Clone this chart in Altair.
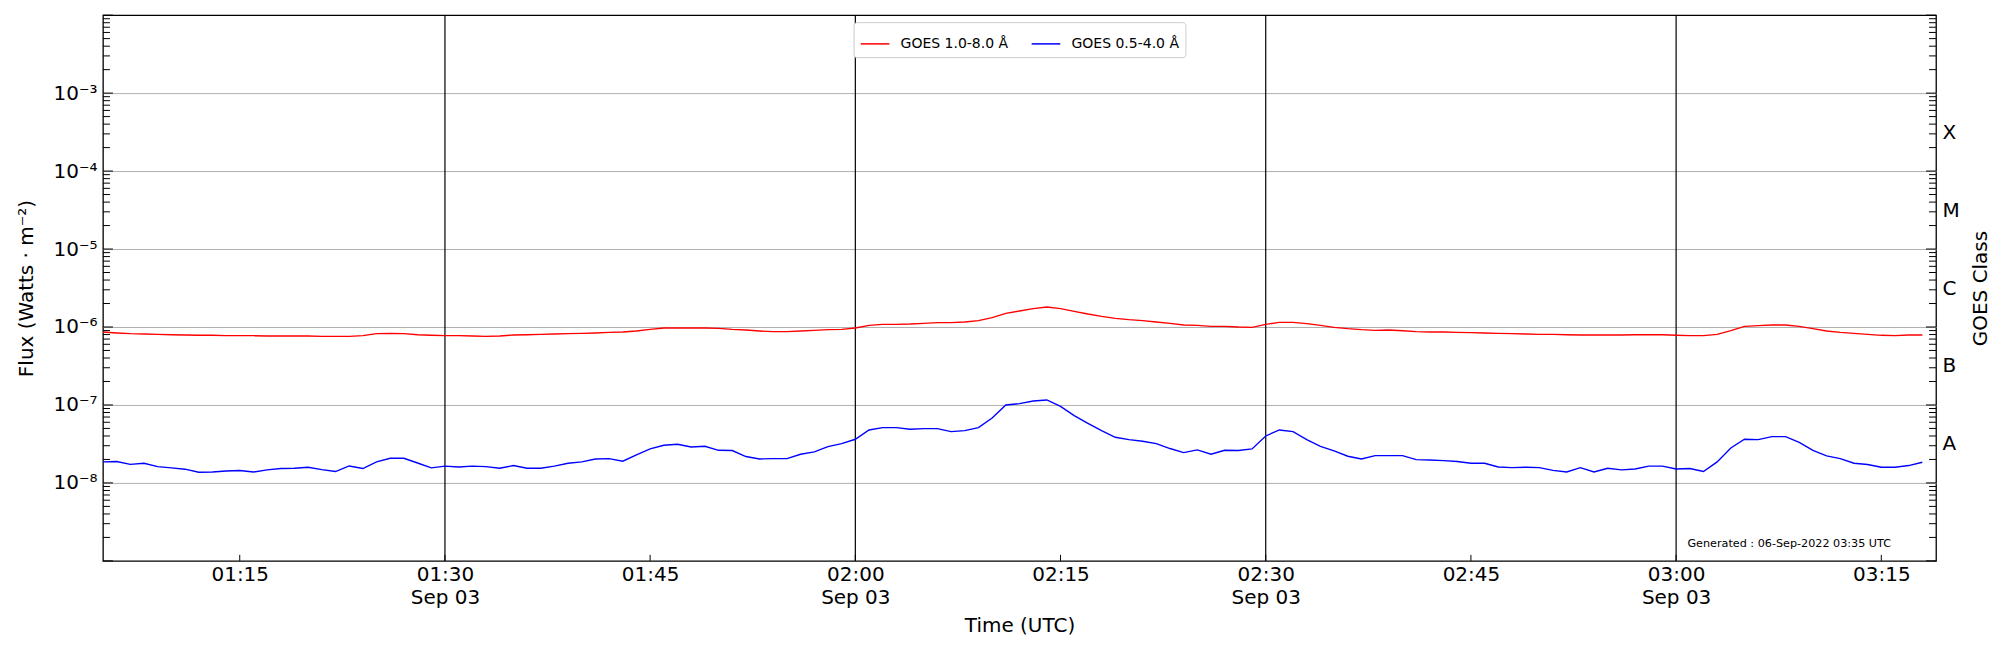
import math
import altair as alt
import pandas as pd

# ---------------- data ----------------
START = "2022-09-03 01:05"
# GOES 1.0-8.0 A flux, in units of 1e-6 W m^-2, one sample per minute from 01:05
xrsb_e6 = [
    0.863, 0.838, 0.821, 0.813, 0.805, 0.797, 0.790, 0.782, 0.782, 0.774,
    0.774, 0.774, 0.767, 0.767, 0.767, 0.767, 0.759, 0.759, 0.759, 0.774,
    0.821, 0.829, 0.821, 0.797, 0.782, 0.774, 0.774, 0.767, 0.759, 0.767,
    0.790, 0.797, 0.805, 0.813, 0.821, 0.829, 0.838, 0.854, 0.863, 0.889,
    0.933, 0.971, 0.971, 0.971, 0.971, 0.961, 0.933, 0.915, 0.889, 0.871,
    0.871, 0.889, 0.906, 0.924, 0.933, 0.971, 1.050, 1.082, 1.082, 1.093,
    1.114, 1.137, 1.137, 1.159, 1.206, 1.317, 1.497, 1.604, 1.718, 1.804,
    1.718, 1.588, 1.468, 1.370, 1.291, 1.242, 1.206, 1.159, 1.114, 1.061,
    1.050, 1.020, 1.020, 1.000, 0.990, 1.082, 1.148, 1.148, 1.103, 1.050,
    0.990, 0.952, 0.924, 0.906, 0.915, 0.897, 0.871, 0.863, 0.863, 0.854,
    0.846, 0.838, 0.829, 0.821, 0.813, 0.805, 0.805, 0.797, 0.790, 0.790,
    0.790, 0.790, 0.797, 0.797, 0.797, 0.782, 0.774, 0.774, 0.805, 0.897,
    1.020, 1.040, 1.061, 1.061, 1.020, 0.952, 0.889, 0.854, 0.829, 0.805,
    0.782, 0.774, 0.790, 0.790,
]
# GOES 0.5-4.0 A flux, in units of 1e-7 W m^-2
xrsa_e7 = [
    0.186, 0.188, 0.173, 0.179, 0.162, 0.156, 0.150, 0.137, 0.138, 0.142,
    0.144, 0.138, 0.147, 0.153, 0.154, 0.159, 0.148, 0.140, 0.165, 0.153,
    0.186, 0.207, 0.207, 0.180, 0.156, 0.164, 0.160, 0.164, 0.162, 0.154,
    0.167, 0.154, 0.154, 0.164, 0.179, 0.186, 0.203, 0.205, 0.190, 0.229,
    0.273, 0.304, 0.313, 0.289, 0.295, 0.262, 0.260, 0.218, 0.203, 0.205,
    0.205, 0.233, 0.250, 0.292, 0.319, 0.363, 0.478, 0.512, 0.512, 0.488,
    0.497, 0.497, 0.455, 0.469, 0.512, 0.681, 1.000, 1.040, 1.126, 1.159,
    0.961, 0.730, 0.582, 0.469, 0.385, 0.359, 0.342, 0.319, 0.276, 0.245,
    0.265, 0.233, 0.262, 0.260, 0.273, 0.400, 0.478, 0.455, 0.359, 0.295,
    0.257, 0.220, 0.203, 0.224, 0.224, 0.224, 0.199, 0.197, 0.193, 0.188,
    0.179, 0.179, 0.160, 0.157, 0.159, 0.157, 0.145, 0.138, 0.157, 0.138,
    0.154, 0.147, 0.151, 0.164, 0.164, 0.151, 0.153, 0.140, 0.186, 0.281,
    0.363, 0.359, 0.393, 0.393, 0.332, 0.262, 0.222, 0.205, 0.179, 0.172,
    0.159, 0.159, 0.167, 0.184,
]
series_names = ["GOES 1.0-8.0 Å", "GOES 0.5-4.0 Å"]
series_colors = ["#ff0000", "#0000ff"]

x_domain = ["01:05", "03:19"]
x_tick_times = ["01:15", "01:30", "01:45", "02:00", "02:15", "02:30", "02:45", "03:00", "03:15"]
x_major_times = ["01:30", "02:00", "02:30", "03:00"]
y_decades = [1e-9, 1e-8, 1e-7, 1e-6, 1e-5, 1e-4, 1e-3, 1e-2]
y_label_values = [1e-8, 1e-7, 1e-6, 1e-5, 1e-4, 1e-3]
y_label_texts = ["10⁻⁸", "10⁻⁷", "10⁻⁶", "10⁻⁵", "10⁻⁴", "10⁻³"]
class_values = [3.1623e-8, 3.1623e-7, 3.1623e-6, 3.1623e-5, 3.1623e-4]
class_labels = ["A", "B", "C", "M", "X"]
generated_text = "Generated : 06-Sep-2022 03:35 UTC"

# ---------------- frames ----------------
times = pd.date_range(START, periods=len(xrsb_e6), freq="1min")
tstr = [t.strftime("%Y-%m-%dT%H:%M:%SZ") for t in times]
df = pd.concat([
    pd.DataFrame({"t": tstr, "v": [x * 1e-6 for x in xrsb_e6], "channel": series_names[0]}),
    pd.DataFrame({"t": tstr, "v": [x * 1e-7 for x in xrsa_e7], "channel": series_names[1]}),
])


def iso(hm):
    return f"2022-09-03T{hm}:00Z"


def dt(hm):
    h, m = hm.split(":")
    return alt.DateTime(year=2022, month=9, date=3, hours=int(h), minutes=int(m), utc=True)


minor_vals = [k * d for d in y_decades[:-1] for k in range(2, 10)]

W, H = 1834, 546
FONT = "DejaVu Sans"

ysc = alt.Scale(type="log", domain=[1e-9, 1e-2], nice=False)
xsc = alt.Scale(type="utc", domain=[dt(x_domain[0]), dt(x_domain[1])], nice=False)

ylab_expr = " : ".join(
    f"round(log(datum.value)/LN10) == {round(math.log10(v))} ? '{s}'"
    for v, s in zip(y_label_values, y_label_texts)
) + " : ''"
class_expr = " : ".join(
    f"floor(log(datum.value)/LN10) == {int(math.floor(math.log10(v)))} ? '{s}'"
    for v, s in zip(class_values, class_labels)
) + " : ''"

xaxis = alt.Axis(
    values=[dt(x) for x in x_tick_times],
    labelExpr="(utcFormat(datum.value, '%M') == '00' || utcFormat(datum.value, '%M') == '30') ? "
              "[utcFormat(datum.value, '%H:%M'), utcFormat(datum.value, '%b %d')] : utcFormat(datum.value, '%H:%M')",
    grid=False, ticks=False, domain=False, labelPadding=4, labelFontSize=20,
    labelLineHeight=23, labelFlush=False, labelOverlap=False,
    title="Time (UTC)", titleFontSize=20, titlePadding=8,
)
yaxis = alt.Axis(
    values=y_label_values, labelExpr=ylab_expr, grid=True, gridColor="#b0b0b0", gridWidth=1,
    ticks=False, domain=False, labelPadding=6, labelFontSize=20,
    title="Flux (Watts · m⁻²)", titleFontSize=20, titlePadding=16,
)
X = alt.X("t:T", scale=xsc, axis=xaxis)
Y = alt.Y("v:Q", scale=ysc, axis=yaxis)

lines = alt.Chart(df).mark_line(strokeWidth=1.4).encode(
    x=X, y=Y,
    color=alt.Color("channel:N", scale=alt.Scale(domain=series_names, range=series_colors),
                    legend=alt.Legend(orient="none", legendX=751, legendY=7, direction="horizontal",
                                      title=None, strokeColor="#cccccc", fillColor="white",
                                      padding=6, cornerRadius=3, symbolType="stroke",
                                      symbolSize=820, symbolStrokeWidth=1.5, labelFontSize=14,
                                      labelOffset=10, columnPadding=20, labelFont=FONT)),
    detail="channel:N",
)

vlines = alt.Chart(pd.DataFrame({"t": [iso(x) for x in x_major_times]})).mark_rule(
    color="black", strokeWidth=1.2).encode(x=X)

xticks = alt.Chart(pd.DataFrame({"t": [iso(x) for x in x_tick_times]})).mark_rule(
    color="black", strokeWidth=1).encode(x=X, y=alt.value(H - 6), y2=alt.value(H))

lminor = alt.Chart(pd.DataFrame({"v": minor_vals})).mark_rule(color="black", strokeWidth=1).encode(
    y=Y, x=alt.value(0), x2=alt.value(7))
lmajor = alt.Chart(pd.DataFrame({"v": y_decades})).mark_rule(color="black", strokeWidth=1).encode(
    y=Y, x=alt.value(0), x2=alt.value(10))

gen = alt.Chart(pd.DataFrame({"label": [generated_text]})).mark_text(
    fontSize=11.2, font=FONT, align="right", baseline="alphabetic", color="black").encode(
    text="label:N", x=alt.value(1789), y=alt.value(532))

left_group = alt.layer(vlines, lines, xticks, lminor, lmajor, gen)

raxis = alt.Axis(
    orient="right", values=class_values, labelExpr=class_expr, grid=False, ticks=False,
    domain=False, labelPadding=6, labelFontSize=20, title="GOES Class", titleFontSize=20,
    titlePadding=31, titleAngle=270,
)
YR = alt.Y("v:Q", scale=ysc, axis=raxis)
rminor = alt.Chart(pd.DataFrame({"v": minor_vals})).mark_rule(color="black", strokeWidth=1).encode(
    y=YR, x=alt.value(W - 7), x2=alt.value(W))
rmajor = alt.Chart(pd.DataFrame({"v": y_decades})).mark_rule(color="black", strokeWidth=1).encode(
    y=YR, x=alt.value(W - 10), x2=alt.value(W))
right_group = alt.layer(rminor, rmajor)

chart = alt.layer(left_group, right_group).resolve_scale(y="independent").properties(
    width=W, height=H,
    autosize=alt.AutoSizeParams(type="none"),
    padding={"left": 95, "top": 7, "right": 56, "bottom": 75},
    background="white",
).configure_view(stroke="black", strokeWidth=1.3).configure_axis(
    labelFont=FONT, titleFont=FONT, labelColor="black", titleColor="black",
    titleFontWeight="normal",
).configure_legend(labelColor="black")

chart.save("out.html", embed_options={"renderer": "svg", "actions": False})
